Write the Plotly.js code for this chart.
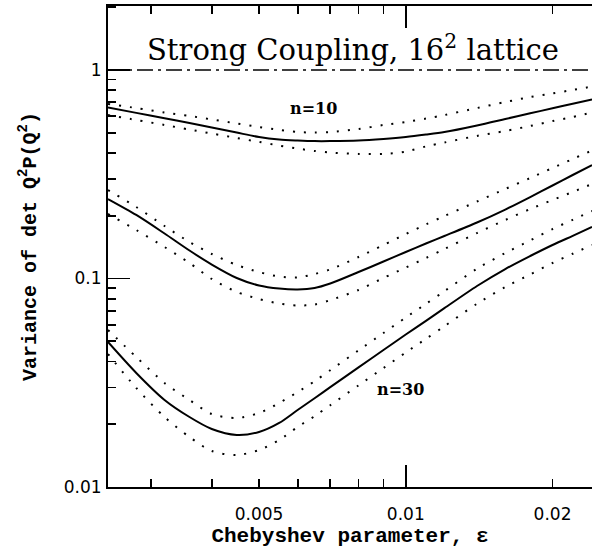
<!DOCTYPE html>
<html>
<head>
<meta charset="utf-8">
<script src="https://cdn.plot.ly/plotly-3.0.1.min.js"></script>
<style>html,body{margin:0;padding:0;background:#fff;}#chart{width:592px;height:558px;}</style>
</head>
<body>
<div id="chart"></div>
<script>
// Chebyshev parameter epsilon (x)
const eps = [0.00245, 0.0028, 0.0032, 0.0036, 0.004, 0.0045, 0.005, 0.0055, 0.006, 0.0065, 0.007,
             0.008, 0.009, 0.010, 0.011, 0.012, 0.014, 0.016, 0.018, 0.020, 0.022, 0.0241];

// n = 10
const n10Mid = [0.661, 0.623, 0.587, 0.557, 0.530, 0.501, 0.477, 0.464, 0.459, 0.456, 0.456,
                0.459, 0.467, 0.477, 0.490, 0.504, 0.542, 0.582, 0.620, 0.655, 0.689, 0.722];
const n10Hi  = [0.687, 0.657, 0.625, 0.602, 0.579, 0.554, 0.533, 0.516, 0.504, 0.501, 0.504,
                0.521, 0.545, 0.563, 0.585, 0.608, 0.657, 0.702, 0.742, 0.772, 0.802, 0.833];
const n10Lo  = [0.608, 0.576, 0.545, 0.518, 0.496, 0.472, 0.452, 0.434, 0.420, 0.409, 0.402,
                0.396, 0.396, 0.406, 0.430, 0.449, 0.483, 0.510, 0.539, 0.569, 0.595, 0.625];

// n = 20
const n20Mid = [0.2405, 0.2017, 0.1643, 0.1362, 0.1167, 0.1006, 0.0926, 0.0895, 0.0886, 0.0900, 0.0946,
                0.1074, 0.1206, 0.1340, 0.1472, 0.1599, 0.1856, 0.2142, 0.2459, 0.2793, 0.3136, 0.3501];
const n20Hi  = [0.2658, 0.2203, 0.1785, 0.1496, 0.1311, 0.1161, 0.1074, 0.1022, 0.1011, 0.1051, 0.1105,
                0.1268, 0.1448, 0.1634, 0.1816, 0.1994, 0.2340, 0.2688, 0.3034, 0.3388, 0.3742, 0.4111];
const n20Lo  = [0.2039, 0.1708, 0.1416, 0.1187, 0.0995, 0.0862, 0.0797, 0.0759, 0.0742, 0.0750, 0.0788,
                0.0881, 0.1006, 0.1129, 0.1254, 0.1385, 0.1652, 0.1908, 0.2154, 0.2379, 0.2601, 0.2840];

// n = 30
const n30Mid = [0.04959, 0.03523, 0.02615, 0.02166, 0.01897, 0.01776, 0.01835, 0.02028, 0.02340, 0.02666, 0.03011,
                0.03746, 0.04541, 0.05387, 0.06268, 0.07205, 0.09204, 0.1110, 0.1282, 0.1448, 0.1602, 0.1766];
const n30Hi  = [0.05662, 0.04202, 0.03153, 0.02615, 0.02239, 0.02143, 0.02264, 0.02529, 0.02854, 0.03216, 0.03632,
                0.04521, 0.05477, 0.06500, 0.07559, 0.08693, 0.1114, 0.1325, 0.1523, 0.1727, 0.1912, 0.2107];
const n30Lo  = [0.04343, 0.02984, 0.02166, 0.01737, 0.01488, 0.01424, 0.01504, 0.01680, 0.01940, 0.02186, 0.02468,
                0.03071, 0.03721, 0.04416, 0.05137, 0.05904, 0.07568, 0.09105, 0.1046, 0.1187, 0.1314, 0.1448];

// reference level at variance = 1
const unityX = [0.00245, 0.0241];
const unityY = [1, 1];

// ticks
const xTickVals = [0.005, 0.01, 0.02];
const xTickText = ['0.005', '0.01', '0.02'];
const xMinorVals = [0.003, 0.004, 0.006, 0.007, 0.008, 0.009];
const xLongVals = [0.01];
const yTickVals = [0.01, 0.1, 1];
const yTickText = ['0.01', '0.1', '1'];
const yMinorVals = [0.02, 0.03, 0.04, 0.05, 0.06, 0.07, 0.08, 0.09,
                    0.2, 0.3, 0.4, 0.5, 0.6, 0.7, 0.8, 0.9, 2];

const labels = [
  {text: 'n=10', x: 0.4256, y: 0.786},
  {text: 'n=30', x: 0.605, y: 0.2037}
];

const solid = {color: '#000', width: 2, shape: 'spline', smoothing: 0.8};
const dotted = {color: '#000', width: 2, dash: '2px,9px', shape: 'spline', smoothing: 0.8};

function tr(y, line) {
  return {x: eps, y: y, type: 'scatter', mode: 'lines', line: line, hoverinfo: 'skip', showlegend: false};
}
const traces = [
  tr(n10Hi, dotted), tr(n10Mid, solid), tr(n10Lo, dotted),
  tr(n20Hi, dotted), tr(n20Mid, solid), tr(n20Lo, dotted),
  tr(n30Hi, dotted), tr(n30Mid, solid), tr(n30Lo, dotted),
  {x: unityX, y: unityY, xaxis: 'x2', yaxis: 'y', type: 'scatter', mode: 'lines',
   line: {color: '#000', width: 1.6, dash: '16px,5px,3px,5px'}, showlegend: false, hoverinfo: 'skip'}
];

const xr = [Math.log10(0.00245), Math.log10(0.0241)];
const yr = [-2, 0.307];
const tickFont = {family: 'DejaVu Sans', size: 17, color: '#000'};
const monoFam = '"Liberation Mono", "Courier New", monospace';

function minorSpec(vals, len) {
  return {tickmode: 'array', tickvals: vals, ticks: 'inside', ticklen: len, tickwidth: 1.8, tickcolor: '#000', showgrid: false};
}

const layout = {
  width: 592, height: 558,
  margin: {l: 108, r: 0, t: 6, b: 71, pad: 0},
  paper_bgcolor: '#fff', plot_bgcolor: '#fff',
  showlegend: false,
  xaxis: {
    type: 'log', range: xr, autorange: false,
    tickmode: 'array', tickvals: xTickVals, ticktext: xTickText,
    ticks: 'inside', ticklen: 8, tickwidth: 1.8, tickcolor: '#000',
    showline: true, linewidth: 2, linecolor: '#000', mirror: 'ticks',
    showgrid: false, zeroline: false,
    tickfont: tickFont, ticklabelstandoff: 11,
    minor: minorSpec(xMinorVals, 8),
    title: {text: 'Chebyshev parameter, ε', font: {family: monoFam, size: 21, color: '#000', weight: 'bold'}, standoff: 4}
  },
  xaxis2: {
    type: 'log', range: xr, autorange: false, overlaying: 'x', anchor: 'y', side: 'bottom',
    tickmode: 'array', tickvals: xLongVals, showticklabels: false,
    ticks: 'inside', ticklen: 22, tickwidth: 1.8, tickcolor: '#000',
    showline: true, linewidth: 2, linecolor: '#000', mirror: 'ticks',
    showgrid: false, zeroline: false
  },
  yaxis: {
    type: 'log', range: yr, autorange: false,
    tickmode: 'array', tickvals: yTickVals, ticktext: yTickText,
    ticks: 'inside', ticklen: 22, tickwidth: 1.8, tickcolor: '#000',
    showline: true, linewidth: 2, linecolor: '#000', mirror: false,
    showgrid: false, zeroline: false,
    tickfont: tickFont, ticklabelstandoff: 1,
    minor: minorSpec(yMinorVals, 8),
    title: {text: 'Variance of det Q<sup>2</sup>P(Q<sup>2</sup>)', font: {family: monoFam, size: 20, color: '#000', weight: 'bold'}, standoff: 22}
  },
  annotations: [
    {text: 'Strong Coupling, 16<sup>2</sup> lattice', xref: 'paper', yref: 'paper', x: 0.506, y: 0.9127,
     xanchor: 'center', yanchor: 'middle', showarrow: false,
     font: {family: 'DejaVu Serif', size: 29, color: '#000'}}
  ].concat(labels.map(l => ({text: l.text, xref: 'paper', yref: 'paper', x: l.x, y: l.y,
     xanchor: 'center', yanchor: 'middle', showarrow: false,
     font: {family: 'DejaVu Serif', size: 16, color: '#000', weight: 'bold'}})))
};

Plotly.newPlot('chart', traces, layout, {staticPlot: true, displayModeBar: false});
</script>
</body>
</html>
